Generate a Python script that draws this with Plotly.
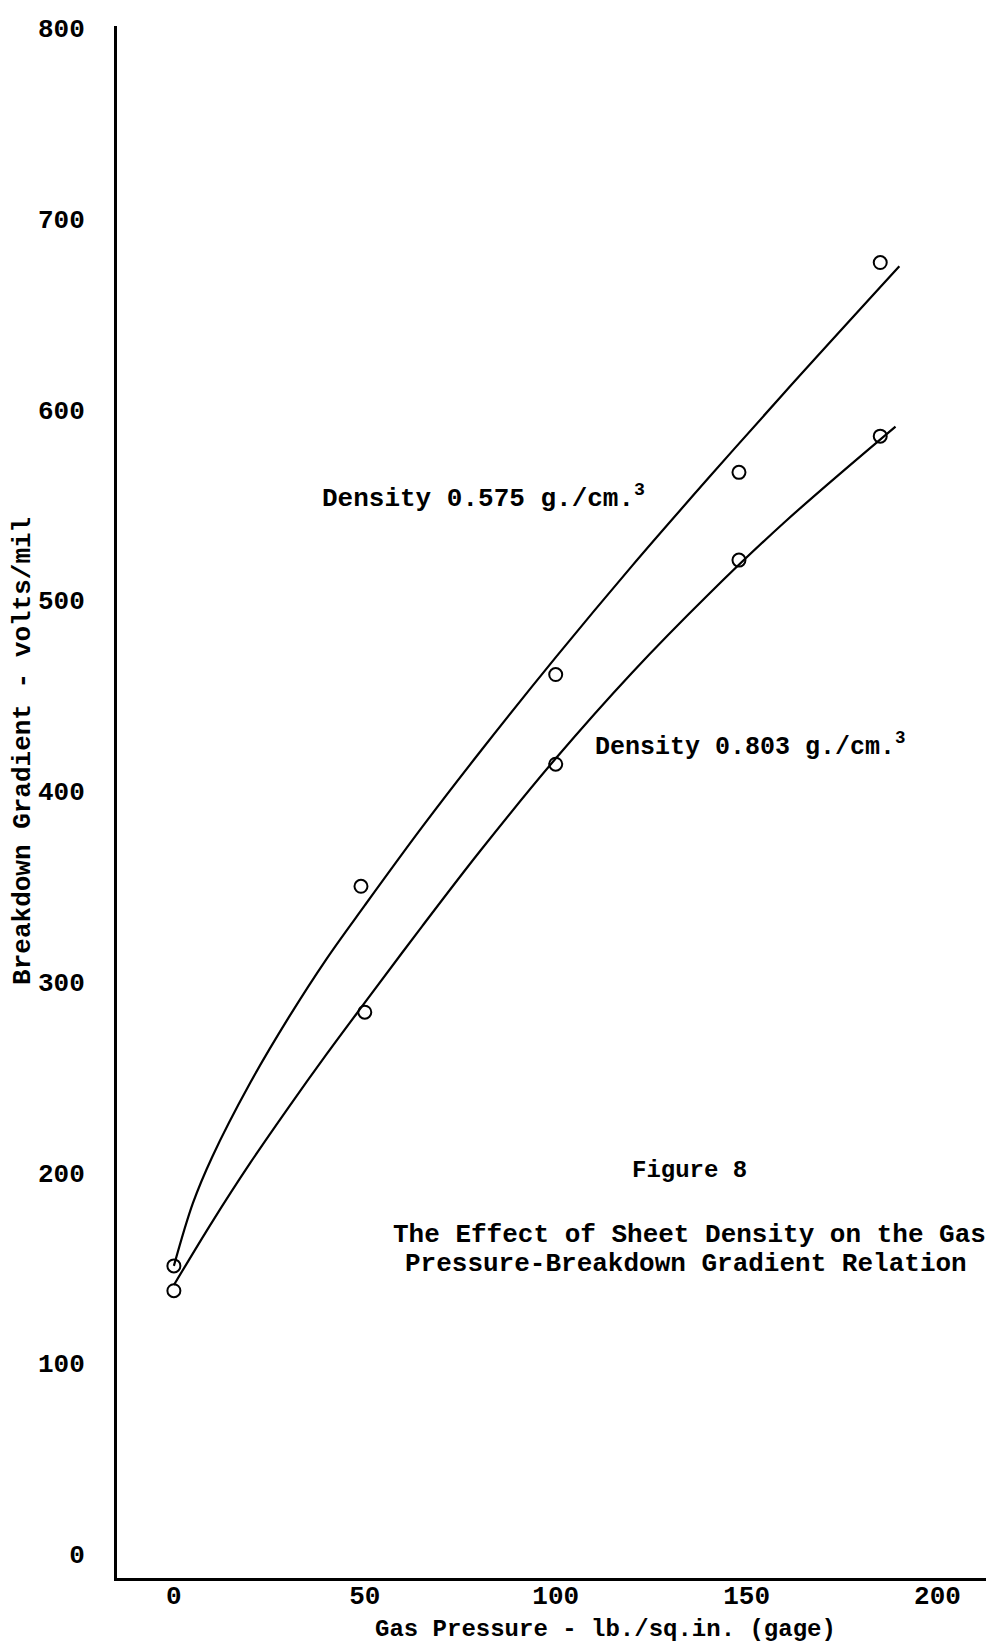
import plotly.graph_objects as go

# ---- data ----
pressure_pts_575 = [0, 49, 100, 148, 185]
gradient_pts_575 = [151, 350, 461, 567, 677]
pressure_pts_803 = [0, 50, 100, 148, 185]
gradient_pts_803 = [138, 284, 414, 521, 586]

# smooth fitted curves
curve_x_575 = [0, 5, 10, 20, 30, 40, 50, 65, 80, 100, 120, 140, 160, 190]
curve_y_575 = [151, 184, 208, 247, 281, 312, 340, 381, 420, 470, 518, 564, 609, 675]
curve_x_803 = [0, 10, 20, 30, 40, 50, 65, 80, 100, 120, 140, 160, 189]
curve_y_803 = [141, 174, 205, 234, 262, 289, 329, 368, 417, 462, 503, 541, 591]

x_ticks = [0, 50, 100, 150, 200]
y_ticks = [0, 100, 200, 300, 400, 500, 600, 700, 800]

label_575 = "Density 0.575 g./cm.<sup>3</sup>"
label_803 = "Density 0.803 g./cm.<sup>3</sup>"
fig_label = "Figure 8"
caption_1 = "The Effect of Sheet Density on the Gas"
caption_2 = "Pressure-Breakdown Gradient Relation"
x_title = "Gas Pressure - lb./sq.in. (gage)"
y_title = "Breakdown Gradient - volts/mil"

FONT = "Liberation Mono"

fig = go.Figure()
for cx, cy in [(curve_x_575, curve_y_575), (curve_x_803, curve_y_803)]:
    fig.add_trace(go.Scatter(x=cx, y=cy, mode="lines",
                             line=dict(color="black", width=2.2, shape="spline", smoothing=1.0),
                             showlegend=False, hoverinfo="skip"))
for px, py in [(pressure_pts_575, gradient_pts_575), (pressure_pts_803, gradient_pts_803)]:
    fig.add_trace(go.Scatter(x=px, y=py, mode="markers",
                             marker=dict(symbol="circle-open", size=13, color="black",
                                         line=dict(width=2, color="black")),
                             showlegend=False))

tf = dict(family=FONT, size=26, color="black", weight="bold")

fig.update_layout(
    width=986, height=1643,
    margin=dict(l=117, r=0, t=26, b=65),
    paper_bgcolor="white", plot_bgcolor="white",
    font=dict(family=FONT, color="black"),
    xaxis=dict(range=[-14.9, 212.7], tickvals=x_ticks, showgrid=False, zeroline=False,
               showline=True, linecolor="black", linewidth=3,
               ticks="", ticklabelstandoff=-8, tickfont=tf),
    yaxis=dict(range=[-12.6, 801.0], tickvals=y_ticks, showgrid=False, zeroline=False,
               showline=True, linecolor="black", linewidth=3,
               ticks="outside", ticklen=24, tickcolor="rgba(0,0,0,0)",
               tickfont=tf),
)

def ann(text, x, y, size, xanchor="left", xref="x", yref="y", **kw):
    fig.add_annotation(text=text, x=x, y=y, xref=xref, yref=yref, showarrow=False,
                       xanchor=xanchor, yanchor="middle",
                       font=dict(family=FONT, size=size, color="black", weight="bold"), **kw)

ann(label_575, 38.3, 554, 26)
ann(label_803, 109.8, 424, 25)
ann(fig_label, 135, 201, 24, xanchor="center")
ann(caption_1, 56.9, 167, 26)
ann(caption_2, 60.0, 152, 26)
ann(x_title, 113.0, -0.0335, 24, xanchor="center", yref="paper")
ann(y_title, 0, 421, 26, xanchor="center", xref="paper", xshift=-94, textangle=-90)

fig.write_html("out.html")
